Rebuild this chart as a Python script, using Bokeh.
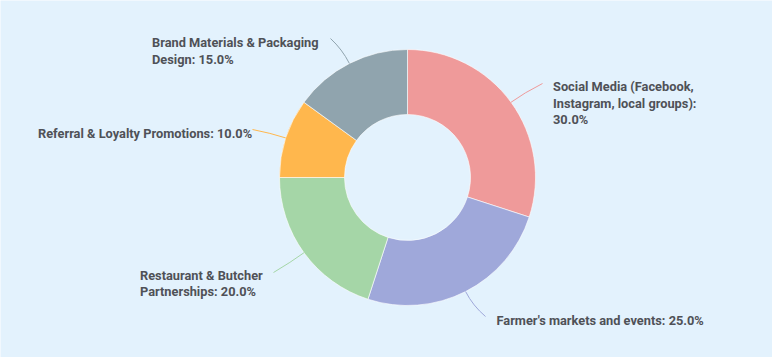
import math
import textwrap
from bokeh.plotting import figure
from bokeh.models import Range1d
from bokeh.core.properties import value
from bokeh.embed import file_html
from bokeh.resources import INLINE

# ---- data ----
categories = [
    "Social Media (Facebook, Instagram, local groups)",
    "Farmer's markets and events",
    "Restaurant & Butcher Partnerships",
    "Referral & Loyalty Promotions",
    "Brand Materials & Packaging Design",
]
shares = [30.0, 25.0, 20.0, 10.0, 15.0]
colors = ["#EF9A9A", "#9FA8DA", "#A5D6A7", "#FFB74D", "#90A4AE"]

# ---- layout (pixel coordinates, y downward) ----
W, H = 772, 357
CX, CY = 407, 177
R_OUT, R_IN = 128, 63
wrap_widths = [25, 60, 22, 60, 27]
label_pos = [(552.5, 86), (496, 319.5), (139.5, 274.5), (37.5, 133), (151.5, 42)]
conn_end = [(542, 83), (485, 316), (273, 272), (252, 129), (330, 38)]
LINE_H = 16.5
BG = "#E3F2FD"
TEXT_COLOR = "#4f5157"

def fy(py):
    return H - py

p = figure(width=W, height=H, output_backend="svg", toolbar_location=None,
           x_range=Range1d(0, W), y_range=Range1d(0, H), min_border=0,
           background_fill_color=BG, border_fill_color=BG)
p.axis.visible = False
p.grid.visible = False
p.outline_line_color = None

total = sum(shares)
cum = 0.0
starts, ends, mids = [], [], []
for v in shares:
    a0 = math.pi / 2 - 2 * math.pi * cum / total
    a1 = math.pi / 2 - 2 * math.pi * (cum + v) / total
    starts.append(a0)
    ends.append(a1)
    mids.append((a0 + a1) / 2)
    cum += v

p.annular_wedge(x=[CX] * len(shares), y=[fy(CY)] * len(shares),
                inner_radius=R_IN, outer_radius=R_OUT,
                start_angle=starts, end_angle=ends, direction="clock",
                fill_color=colors, line_color="#ffffff", line_width=1, line_alpha=0.6)

for i, name in enumerate(categories):
    m = mids[i]
    x0 = CX + R_OUT * math.cos(m)
    y0 = fy(CY) + R_OUT * math.sin(m)
    cx = CX + (R_OUT + 16) * math.cos(m)
    cy = fy(CY) + (R_OUT + 16) * math.sin(m)
    ex, ey = conn_end[i]
    p.quadratic(x0=[x0], y0=[y0], x1=[ex], y1=[fy(ey)], cx=[cx], cy=[cy],
                line_color=colors[i], line_width=1)
    label = f"{name}: {shares[i]:.1f}%"
    lines = textwrap.wrap(label, wrap_widths[i])
    lx, ly = label_pos[i]
    p.text(x=[lx] * len(lines), y=[fy(ly + k * LINE_H) for k in range(len(lines))],
           text=lines, text_font=value("Roboto"), text_font_style="bold",
           text_font_size="12.8px", text_color=TEXT_COLOR,
           text_align="left", text_baseline="middle")

open("out.html", "w").write(file_html(p, INLINE))
